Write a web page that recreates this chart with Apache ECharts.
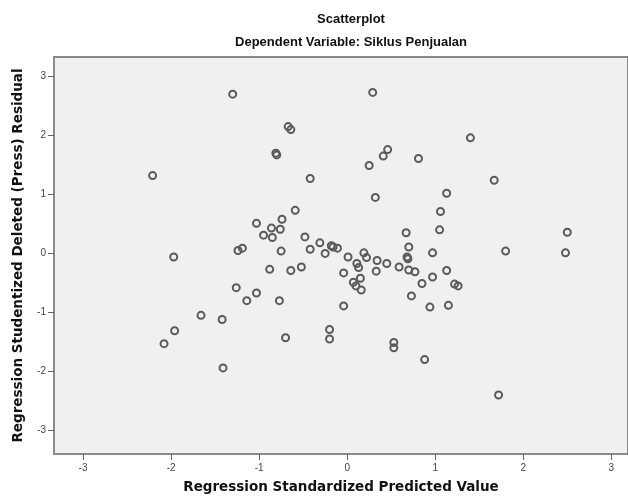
<!DOCTYPE html>
<html>
<head>
<meta charset="utf-8">
<script src="https://cdn.jsdelivr.net/npm/echarts@6/dist/echarts.min.js"></script>
<style>
html,body{margin:0;padding:0;background:#fff;}
#chart{width:628px;height:499px;}
</style>
</head>
<body>
<div id="chart"></div>
<script>
const titleMain = 'Scatterplot';
const titleSub = 'Dependent Variable: Siklus Penjualan';
const xAxisName = 'Regression Standardized Predicted Value';
const yAxisName = 'Regression Studentized Deleted (Press) Residual';
const tickValues = [-3, -2, -1, 0, 1, 2, 3];

const predicted = [
  -1.30, -2.21, 0.29, -0.67, -0.64, -0.81, -0.80, 0.46, 0.41, 0.81,
  0.25, -0.42, 0.32, -0.59, -1.03, -0.74, -0.86, -0.76, -0.95, -0.85,
  -0.48, 0.67, 1.40, 1.67, 1.13, 1.06, 1.05, 2.50, -1.97, -1.24,
  -1.19, -1.26, -1.03, -1.14, -1.66, -1.42, -1.96, -2.08, -1.41, -0.75,
  -0.42, -0.31, -0.18, -0.16, -0.11, -0.25, 0.01, 0.19, 0.22, 0.34,
  0.45, 0.70, 0.68, 0.69, 0.59, 0.70, 0.77, 0.97, 0.97, 0.85,
  0.73, 0.94, -0.88, -0.64, -0.52, -0.77, -0.04, 0.11, 0.13, 0.15,
  0.07, 0.10, 0.16, -0.04, -0.20, -0.20, -0.70, 0.53, 0.53, 0.88,
  0.33, 1.13, 1.22, 1.26, 1.80, 2.48, 1.15, 1.72
];
const residual = [
  2.69, 1.31, 2.72, 2.14, 2.09, 1.69, 1.66, 1.75, 1.64, 1.60,
  1.48, 1.26, 0.94, 0.72, 0.50, 0.57, 0.42, 0.40, 0.30, 0.26,
  0.27, 0.34, 1.95, 1.23, 1.01, 0.70, 0.39, 0.35, -0.07, 0.04,
  0.08, -0.59, -0.68, -0.81, -1.06, -1.13, -1.32, -1.54, -1.95, 0.03,
  0.06, 0.17, 0.12, 0.10, 0.08, -0.01, -0.07, 0.00, -0.08, -0.13,
  -0.18, 0.10, -0.07, -0.10, -0.24, -0.29, -0.32, 0.00, -0.41, -0.52,
  -0.73, -0.92, -0.28, -0.30, -0.24, -0.81, -0.34, -0.18, -0.25, -0.43,
  -0.50, -0.56, -0.63, -0.90, -1.30, -1.46, -1.44, -1.52, -1.61, -1.81,
  -0.31, -0.30, -0.53, -0.56, 0.03, 0.00, -0.89, -2.41
];

const points = predicted.map((x, i) => [x, residual[i]]);

const chart = echarts.init(document.getElementById('chart'), null, {renderer: 'canvas'});
const labelStyle = {color: '#444', fontSize: 10, fontFamily: 'Liberation Sans, Arial, sans-serif'};
const nameStyle = {color: '#111', fontSize: 13.5, fontWeight: 'bold', fontFamily: 'DejaVu Sans, sans-serif'};
const axisLineStyle = {color: '#8a8a8a', width: 2};

chart.setOption({
  animation: false,
  backgroundColor: '#ffffff',
  title: [
    {text: titleMain, left: 346, top: 8, textAlign: 'center',
     textStyle: {fontSize: 13, fontWeight: 'bold', color: '#111', fontFamily: 'Liberation Sans, Arial, sans-serif'}},
    {text: titleSub, left: 346, top: 31, textAlign: 'center',
     textStyle: {fontSize: 13, fontWeight: 'bold', color: '#111', fontFamily: 'Liberation Sans, Arial, sans-serif'}}
  ],
  grid: {
    left: 54, top: 57, width: 574, height: 398,
    show: true, backgroundColor: '#f0f0f0', borderColor: '#8a8a8a', borderWidth: 2
  },
  xAxis: {
    type: 'value', min: -3.33, max: 3.19,
    name: xAxisName, nameLocation: 'middle', nameGap: 26, nameTextStyle: nameStyle,
    axisLine: {show: true, onZero: false, lineStyle: axisLineStyle},
    axisTick: {show: true, customValues: tickValues, length: 6, lineStyle: {color: '#666', width: 1}},
    axisLabel: {customValues: tickValues, margin: 9, ...labelStyle},
    splitLine: {show: false}
  },
  yAxis: {
    type: 'value', min: -3.41, max: 3.32,
    name: yAxisName, nameLocation: 'middle', nameGap: 29, nameRotate: 90, nameTextStyle: nameStyle,
    axisLine: {show: true, onZero: false, lineStyle: axisLineStyle},
    axisTick: {show: true, customValues: tickValues, length: 6, lineStyle: {color: '#666', width: 1}},
    axisLabel: {customValues: tickValues, margin: 8, ...labelStyle},
    splitLine: {show: false}
  },
  series: [{
    type: 'scatter',
    data: points,
    symbol: 'circle',
    symbolSize: 7,
    itemStyle: {color: 'rgba(0,0,0,0)', borderColor: '#5a5a5a', borderWidth: 2, opacity: 1}
  }]
});
</script>
</body>
</html>
